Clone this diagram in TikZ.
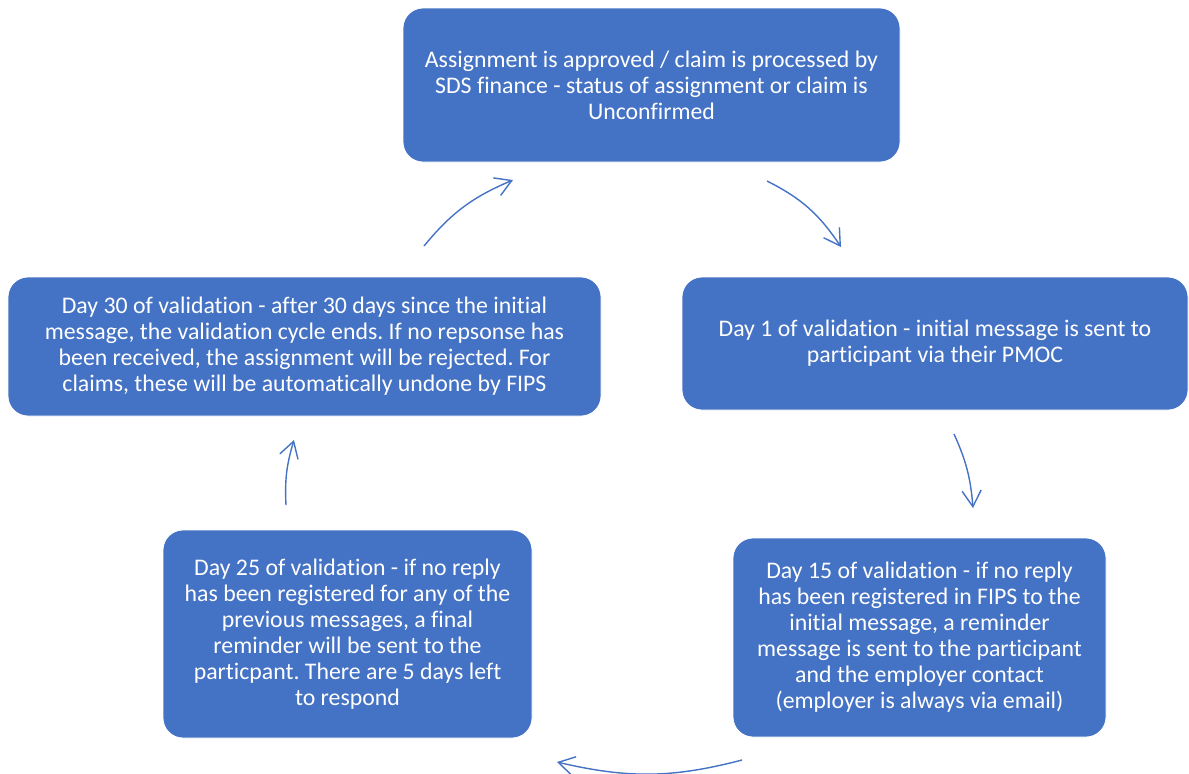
\documentclass[tikz,border=0pt]{standalone}
\usepackage{fontspec}
\setmainfont{Carlito}[Ligatures=NoCommon]
\frenchspacing
\usetikzlibrary{arrows.meta,bending}
\definecolor{stageblue}{HTML}{4472C4}

\begin{document}
\begin{tikzpicture}[x=0.5pt,y=-0.5pt,
	stage/.style={rectangle,rounded corners=10pt,fill=stageblue,draw=white,thin,text=white,align=center,inner sep=0pt,font=\fontsize{11.9}{13}\selectfont},
	flow/.style={draw=stageblue,line width=0.7pt,-{Straight Barb[length=8pt,width=9.5pt,line width=0.7pt]}}]
	\useasboundingbox (0,0) rectangle (1189,773);
	% stages of the validation cycle
	\node[stage,minimum width=248.5pt,minimum height=77pt] (approved) at (651.5,85) {Assignment is approved / claim is processed by\\SDS finance - status of assignment or claim is\\Unconfirmed};
	\node[stage,minimum width=253pt,minimum height=66.5pt] (day1) at (935,343.5) {Day 1 of validation - initial message is sent to\\participant via their PMOC};
	\node[stage,minimum width=186.5pt,minimum height=99.5pt] (day15) at (919.5,637.5) {Day 15 of validation - if no reply\\has been registered in FIPS to the\\initial message, a reminder\\message is sent to the participant\\and the employer contact\\(employer is always via email)};
	\node[stage,minimum width=184.5pt,minimum height=104pt] (day25) at (347.5,634) {Day 25 of validation - if no reply\\has been registered for any of the\\previous messages, a final\\reminder will be sent to the\\particpant. There are 5 days left\\to respond};
	\node[stage,minimum width=296.5pt,minimum height=69.5pt] (day30) at (304.5,346.5) {Day 30 of validation - after 30 days since the initial\\message, the validation cycle ends. If no repsonse has\\been received, the assignment will be rejected. For\\claims, these will be automatically undone by FIPS};
	% arrow ends
	\coordinate (a1) at (767,181);
	\coordinate (b1) at (841,247);
	\coordinate (a2) at (954,434);
	\coordinate (b2) at (973,508);
	\coordinate (a3) at (742,760);
	\coordinate (b3) at (557,762);
	\coordinate (a4) at (286,505);
	\coordinate (b4) at (294,440);
	\coordinate (a5) at (424,246);
	\coordinate (b5) at (513,180);
	\draw[flow] (a1) to[bend left=15] (b1);
	\draw[flow] (a2) to[bend left=10] (b2);
	\draw[flow] (a3) to[bend left=14] (b3);
	\draw[flow] (a4) to[bend left=10] (b4);
	\draw[flow] (a5) to[bend left=14] (b5);
\end{tikzpicture}
\end{document}
